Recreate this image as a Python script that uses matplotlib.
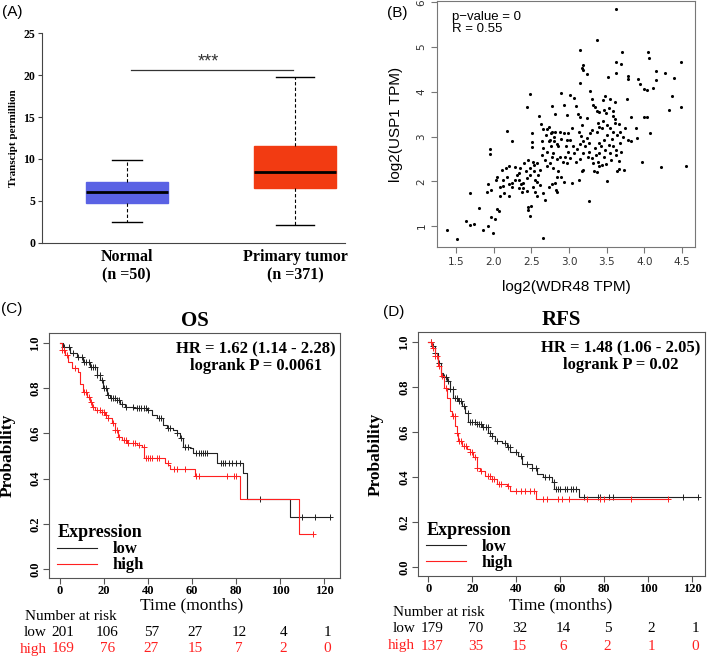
import numpy as np
import matplotlib
matplotlib.use("Agg")
import matplotlib.pyplot as plt
import matplotlib.transforms as mtransforms

SERIF = "Liberation Serif"
SANS = "Liberation Sans"

# (A) box plot stats: whislo, q1, med, q3, whishi
box_groups = ["Normal\n(n =50)", "Primary tumor\n(n =371)"]
box_stats = [[2.5, 4.8, 6.1, 7.3, 9.9],
             [2.1, 6.5, 8.5, 11.6, 19.8]]
box_colors = ["#5a62e4", "#f23b12"]

# (B) scatter, log2(WDR48 TPM) vs log2(USP1 TPM)
pts = [(3.63,5.85),(3.37,5.16),(3.14,4.94),(3.71,4.89),(4.05,4.89),(4.06,4.75),(4.49,4.66),(3.63,4.66),
       (3.69,4.62),(3.18,4.59),(3.17,4.54),(3.18,4.48),(4.27,4.43),(4.15,4.47),(3.63,4.43),(3.24,4.40),
       (3.79,4.36),(3.79,4.28),(3.91,4.29),(4.16,4.26),(4.39,4.31),(3.94,4.18),(3.52,4.34),(3.14,4.20),
       (3.99,4.06),(4.03,4.04),(4.11,4.08),(3.77,3.84),(4.37,3.90),(4.49,3.67),(4.33,3.59),(4.03,3.44),
       (3.99,3.44),(3.83,3.43),(3.89,3.19),(3.90,2.96),(4.07,3.07),(3.97,2.43),(4.22,2.32),(4.55,2.34),
       (3.66,2.27),(3.50,2.01),(3.26,1.56),(2.66,0.74),(1.38,0.91),(1.51,0.72),(1.63,1.11),(1.68,1.02),
       (1.74,1.04),(1.68,1.73),(1.81,1.40),(1.86,0.90),(1.93,1.00),(1.99,0.84),(1.91,1.75),(1.93,1.93),
       (1.97,1.81),(1.95,2.72),(1.95,2.60),(1.96,1.19),(2.02,1.16),(2.04,1.39),(2.07,1.34),(2.03,2.03),
       (2.05,2.10),(2.11,2.25),(2.13,1.90),(2.20,1.93),(2.18,2.10),(2.20,1.66),(2.18,3.12),(2.21,2.33),
       (2.25,2.90),(2.28,2.31),(2.31,2.14),(2.36,1.93),(2.33,2.03),(2.39,1.97),(2.44,3.65),(2.48,3.95),
       (2.43,2.24),(2.44,1.78),(2.45,1.42),(2.45,1.36),(2.48,1.22),(2.50,1.45),(2.51,2.87),(2.51,2.76),
       (2.51,3.07),(2.54,2.37),(2.52,2.43),(2.53,2.23),(2.57,1.99),(2.60,3.46),(2.63,3.27),(2.65,3.16),
       (2.65,1.73),(2.58,1.67),(2.68,1.58),(2.74,3.22),(2.78,3.09),(2.80,3.00),(2.84,2.83),(2.78,3.69),
       (2.82,3.50),(2.90,3.97),(2.93,3.71),(2.97,3.49),(3.02,3.93),(3.07,3.87),(3.09,3.69),(3.12,3.51),
       (3.15,3.43),(3.17,3.26),(3.24,3.41),(3.28,4.02),(3.30,3.84),(3.32,3.71),(3.35,3.67),(3.37,3.56),
       (3.40,3.54),(3.45,3.82),(3.48,3.90),(3.47,3.60),(3.49,3.52),(3.53,3.63),(3.58,3.56),(3.59,3.45),
       (3.61,3.40),(3.67,3.28),(3.61,3.78),(3.55,3.84),(3.61,3.30),(3.39,3.30),(3.40,3.22),(3.44,3.19),
       (3.50,3.26),(3.55,3.19),(3.59,3.11),(3.64,3.04),(3.68,3.11),(3.74,3.19),(3.72,3.00),(3.79,2.93),
       (3.82,2.89),(3.68,2.85),(3.57,2.94),(3.59,2.78),(3.62,2.70),(3.69,2.66),(3.46,2.93),(3.40,2.85),
       (3.34,2.74),(3.40,2.63),(3.46,2.55),(3.49,2.39),(3.56,2.48),(3.62,2.59),(3.67,2.46),(3.73,2.25),
       (3.64,2.22),(3.48,2.70),(3.36,2.59),(3.32,2.40),(3.33,2.22),(3.37,2.20),(3.27,2.66),(3.21,2.78),
       (3.19,2.64),(3.15,2.49),(3.19,2.25),(3.17,2.22),(3.13,2.03),(3.09,2.44),(3.07,2.63),(3.05,2.78),
       (3.02,2.93),(2.99,3.07),(3.04,3.19),(3.13,3.11),(3.16,3.01),(3.24,2.96),(3.28,3.07),(3.31,3.15),
       (3.19,2.89),(3.14,2.84),(3.10,2.72),(2.99,2.66),(2.95,2.55),(2.92,2.44),(2.97,2.40),(3.02,2.51),
       (2.88,2.55),(2.84,2.49),(2.79,2.63),(2.76,2.78),(2.73,2.89),(2.70,3.04),(2.66,2.74),(2.64,2.59),
       (2.68,2.48),(2.71,2.33),(2.75,2.40),(2.79,2.29),(2.86,2.22),(2.90,2.10),(2.93,1.99),(2.84,2.10),
       (2.82,1.97),(2.77,1.94),(2.73,1.88),(2.83,1.81),(2.84,1.77),(3.04,1.97),(2.62,2.25),(2.59,2.14),
       (2.57,2.40),(2.64,2.89),(2.71,2.66),(2.77,2.55),(2.86,2.78),(2.90,2.94),(2.93,3.07),(2.96,2.78),
       (3.25,2.55),(3.31,2.51),(3.38,2.44),(3.44,2.37),(3.40,2.33),(3.43,2.78),(3.53,2.81),(3.55,2.63),
       (3.50,3.04),(3.45,3.34),(3.37,3.11),(3.26,2.85),(2.97,2.93),(2.88,3.11),(2.82,3.09),(2.76,3.07),
       (2.75,2.92),(2.80,2.89),(2.71,3.16),(2.46,2.48),(2.40,2.40),(2.35,2.29),(2.33,2.18),(2.28,2.03),
       (2.24,1.97),(2.25,1.88),(2.39,1.84),(2.44,2.07),(2.48,2.14),(2.52,1.88),(2.55,1.77),(2.08,1.88),
       (2.12,2.03),(2.14,1.73),(2.08,1.66),(2.17,2.29),(2.33,1.84),(2.37,1.77),(2.55,2.03),(2.62,1.92),
       (2.48,2.29)]
wdr48 = [p[0] for p in pts]
usp1 = [p[1] for p in pts]

# (C) OS Kaplan-Meier
os_low_t = [0,1.5,4.5,7.6,10.6,13.6,16.7,18.2,19.7,21.2,22.7,25.8,27.3,29.5,33.3,39.4,41.7,43.9,47,48.5,
            51.5,53,54.5,56,59,60.6,71.2,83.3,84.8,104.5,122.7]
os_low_s = [1.0,0.984,0.954,0.94,0.917,0.895,0.858,0.836,0.80,0.77,0.755,0.748,0.73,0.715,0.71,0.703,
            0.68,0.667,0.637,0.622,0.615,0.60,0.578,0.54,0.534,0.512,0.468,0.423,0.308,0.232,0.232]
os_high_t = [0,0.8,2.3,3.8,5.3,8.3,9.1,10.6,12.1,13.6,14.4,15.9,18.2,20.5,22,23.5,25,26.5,28,30.3,34.8,
             37.1,38.2,47.7,49.2,50,61.4,81.8,108.6,115.2]
os_high_s = [1.0,0.97,0.947,0.917,0.888,0.873,0.82,0.785,0.763,0.74,0.718,0.703,0.696,0.681,0.667,0.645,
             0.615,0.586,0.571,0.559,0.549,0.541,0.49,0.468,0.46,0.442,0.413,0.308,0.153,0.153]
os_low_cens = [2,4,6,8,10,11,12,13,14,15,16,17,18,19,20,21,22,23,24,25,26,27,28,30,33,35,36,37,38,39,40,
               45,46,49,50,53,55,57,58,62,63,64,65,66,67,73,74,75,77,78,80,82,91,110,116,122.7]
os_high_cens = [1,2,3,7,11,12,13,14,15,17,18,19,20,21,22,24,25,26,27,29,30,31,33,34,36,38,39,40,41,42,
                44,45,49,52,53,57,62,63,76,79,80,115.2]
os_risk_low = [201, 106, 57, 27, 12, 4, 1]
os_risk_high = [169, 76, 27, 15, 7, 2, 0]

# (D) RFS Kaplan-Meier
rfs_low_t = [0,1.5,3,4.5,5.8,6.8,8.3,9.8,11.4,13.6,15.2,16.7,18.2,21.2,24.2,27.3,28.8,30.3,33.3,35.6,
             37.1,40.9,42.4,47,49.2,52.3,56.1,57.1,68.6,122.7]
rfs_low_s = [1.0,0.98,0.951,0.907,0.863,0.844,0.826,0.789,0.752,0.737,0.715,0.686,0.642,0.634,0.622,
             0.597,0.583,0.56,0.549,0.531,0.509,0.494,0.457,0.442,0.413,0.398,0.376,0.347,0.31,0.31]
rfs_high_t = [0,1.5,3,4.5,5.8,7.3,8.3,9.8,10.6,12.1,12.9,13.6,15.2,17.4,18.9,20.5,22,23.5,25.8,28.8,
              31.1,35.6,37.1,48.8,109.1]
rfs_high_s = [1.0,0.973,0.937,0.892,0.848,0.796,0.752,0.693,0.671,0.627,0.597,0.56,0.538,0.524,0.509,
              0.487,0.442,0.428,0.406,0.391,0.369,0.361,0.339,0.30,0.30]
rfs_low_cens = [1,2,3,5,7,8,9,10,11,12,13,14,15,16,18,19,20,21,22,23,24,25,26,27,28,29,31,35,36,37,40,
                42,45,47,49,53,55,57,58,59,60,62,63,65,66,67,71,77,78,82,84,116,122.7]
rfs_high_cens = [1,2,3,4,5,6,8,11,12,13,14,15,16,17,19,20,21,22,24,27,28,29,30,32,33,36,40,42,44,46,48,
                 52,54,59,61,64,72,78,80,92,109.1]
rfs_risk_low = [179, 70, 32, 14, 5, 2, 1]
rfs_risk_high = [137, 35, 15, 6, 2, 1, 0]

risk_times = [0, 20, 40, 60, 80, 100, 120]

W, H = 709, 657
fig = plt.figure(figsize=(W / 100, H / 100), dpi=100)


def box(l, t, r, b):
    # pixel box -> figure fraction
    return [l / W, 1 - b / H, (r - l) / W, (b - t) / H]


# ---------------- (A) ----------------
axA = fig.add_axes(box(42, 33, 345, 243))
stats = []
for lab, s in zip(box_groups, box_stats):
    stats.append(dict(label=lab, whislo=s[0], q1=s[1], med=s[2], q3=s[3], whishi=s[4]))
bp = axA.bxp(stats, positions=[1, 2], widths=0.49, capwidths=[0.18, 0.23], patch_artist=True,
             showfliers=False,
             whiskerprops=dict(color="black", lw=0.8, linestyle=(0, (3, 2))),
             capprops=dict(color="black", lw=1.0),
             medianprops=dict(color="black", lw=2.0))
for patch, c in zip(bp["boxes"], box_colors):
    patch.set_facecolor(c)
    patch.set_edgecolor(c)
axA.set_xlim(0.4955, 2.2973)
axA.set_ylim(0, 25)
axA.set_yticks([0, 5, 10, 15, 20, 25])
axA.spines["top"].set_visible(False)
axA.spines["right"].set_visible(False)
axA.spines["left"].set_color("#444444")
axA.spines["bottom"].set_color("#444444")
axA.tick_params(axis="x", length=0, pad=4)
axA.tick_params(axis="y", length=3, color="#444444", pad=2)
for lab in axA.get_yticklabels():
    lab.set_fontfamily(SERIF)
    lab.set_fontweight("bold")
    lab.set_fontsize(8.5)
for lab in axA.get_xticklabels():
    lab.set_fontfamily(SERIF)
    lab.set_fontweight("bold")
    lab.set_fontsize(11.5)
    lab.set_linespacing(1.2)
axA.set_ylabel("Transcipt permillion", fontfamily=SERIF, fontweight="bold", fontsize=8, labelpad=4)
axA.plot([1.025, 1.988], [20.6, 20.6], color="#333333", lw=0.9)
axA.text(1.483, 21.5, "***", ha="center", va="center", fontsize=13, color="#333333", fontfamily=SANS)
fig.text(2 / W, 1 - 12 / H, "(A)", fontsize=11, fontfamily=SANS, va="center", ha="left")

# ---------------- (B) ----------------
axB = fig.add_axes(box(437, 1, 695, 247))
axB.scatter(wdr48, usp1, s=5, color="black", linewidths=0)
axB.set_xlim(1.248, 4.673)
axB.set_ylim(0.53, 6.03)
axB.set_xticks([1.5, 2.0, 2.5, 3.0, 3.5, 4.0, 4.5])
axB.set_yticks([1, 2, 3, 4, 5, 6])
for sp in axB.spines.values():
    sp.set_color("#777777")
axB.tick_params(axis="both", length=4, color="#777777", labelsize=7.5, labelcolor="#333333")
axB.tick_params(axis="y", labelrotation=90)
for lab in axB.get_yticklabels():
    lab.set_va("center")
axB.set_xlabel("log2(WDR48 TPM)", fontsize=11, fontfamily=SANS, labelpad=9)
axB.set_ylabel("log2(USP1 TPM)", fontsize=11, fontfamily=SANS, labelpad=10)
axB.text(0.06, 0.96, "p\u2212value = 0\nR = 0.55", transform=axB.transAxes, ha="left", va="top",
         fontsize=9.5, fontfamily=SANS, linespacing=1.05)
fig.text(387 / W, 1 - 13 / H, "(B)", fontsize=11, fontfamily=SANS, va="center", ha="left")


# ---------------- (C), (D) ----------------
def km_panel(rect, x0, xmax, title, letter, letter_xy, low, high, cens_low, cens_high,
             risk_low, risk_high, hr_text, ylab_x, y_time, y_rows):
    ax = fig.add_axes(rect)
    for (t, s), cens, col in [(low, cens_low, "#222222"), (high, cens_high, "#ff2020")]:
        line, = ax.step(t, s, where="post", color=col, lw=0.8)
        t_arr = np.array(t)
        s_arr = np.array(s)
        idx = np.searchsorted(t_arr, cens, side="right") - 1
        ax.plot(cens, s_arr[idx], linestyle="none", marker="+", color=col, ms=5, mew=0.7)
        if col == "#222222":
            h_low = line
        else:
            h_high = line
    ax.set_xlim(x0, xmax)
    ax.set_ylim(-0.04, 1.044)
    ax.set_xticks(risk_times)
    ax.set_yticks([0.0, 0.2, 0.4, 0.6, 0.8, 1.0])
    ax.set_yticklabels(["0.0", "0.2", "0.4", "0.6", "0.8", "1.0"])
    for sp in ax.spines.values():
        sp.set_color("#555555")
    ax.tick_params(axis="both", length=4, color="#555555", pad=1.5)
    ax.tick_params(axis="x", pad=1)
    ax.tick_params(axis="y", labelrotation=90)
    for lab in ax.get_xticklabels() + ax.get_yticklabels():
        lab.set_fontfamily(SERIF)
        lab.set_fontweight("bold")
        lab.set_fontsize(9)
    for lab in ax.get_yticklabels():
        lab.set_va("center")
    ax.set_ylabel("Probability", fontfamily=SERIF, fontweight="bold", fontsize=12.5)
    ax.yaxis.set_label_coords(ylab_x, 0.5)
    ax.text(0.5, 1.05, title, transform=ax.transAxes, ha="center", va="center",
            fontfamily=SERIF, fontweight="bold", fontsize=15)
    ax.text(0.985, 0.965, hr_text, transform=ax.transAxes, ha="right", va="top",
            fontfamily=SERIF, fontweight="bold", fontsize=12, multialignment="center", linespacing=1.05)
    ax.legend([h_low, h_high], ["low", "high"], title="Expression", loc="lower left",
              bbox_to_anchor=(0.0, -0.015), frameon=False, alignment="left",
              prop=dict(family=SERIF, weight="bold", size=12),
              title_fontproperties=dict(family=SERIF, weight="bold", size=13),
              handlelength=2.4, handletextpad=0.9, labelspacing=0.0, borderaxespad=0.3,
              borderpad=0.2)
    tr = mtransforms.blended_transform_factory(ax.transData, fig.transFigure)
    ax.text(60, 1 - y_time / H, "Time (months)", transform=tr, ha="center", va="center",
            fontfamily=SERIF, fontsize=12.5, clip_on=False)
    ax.text(-16, 1 - y_rows[0] / H, "Number at risk", transform=tr, ha="left", va="center",
            fontfamily=SERIF, fontsize=11, clip_on=False)
    ax.text(-6, 1 - y_rows[1] / H, "low", transform=tr, ha="right", va="center",
            fontfamily=SERIF, fontsize=11, clip_on=False)
    ax.text(-6, 1 - y_rows[2] / H, "high", transform=tr, ha="right", va="center",
            fontfamily=SERIF, fontsize=11, color="#ff2020", clip_on=False)
    for tm, nl, nh in zip(risk_times, risk_low, risk_high):
        ax.text(tm + 1.5, 1 - y_rows[1] / H, str(nl), transform=tr, ha="center", va="center",
                fontfamily=SERIF, fontsize=11, clip_on=False)
        ax.text(tm + 1.5, 1 - y_rows[2] / H, str(nh), transform=tr, ha="center", va="center",
                fontfamily=SERIF, fontsize=11, color="#ff2020", clip_on=False)
    fig.text(letter_xy[0] / W, 1 - letter_xy[1] / H, letter, fontsize=11, fontfamily=SANS,
             va="center", ha="left")
    return ax


km_panel(box(49, 333, 340, 578), -5, 127.3, "OS", "(C)", (1, 309),
         (os_low_t, os_low_s), (os_high_t, os_high_s), os_low_cens, os_high_cens,
         os_risk_low, os_risk_high, "HR = 1.62 (1.14 - 2.28)\nlogrank P = 0.0061", -0.115,
         605, (616, 632, 649))
km_panel(box(418, 332, 705, 576), -4.7, 125.8, "RFS", "(D)", (383, 312),
         (rfs_low_t, rfs_low_s), (rfs_high_t, rfs_high_s), rfs_low_cens, rfs_high_cens,
         rfs_risk_low, rfs_risk_high, "HR = 1.48 (1.06 - 2.05)\nlogrank P = 0.02", -0.12,
         605, (612, 628, 646))

fig.savefig("out.png", dpi=100)
